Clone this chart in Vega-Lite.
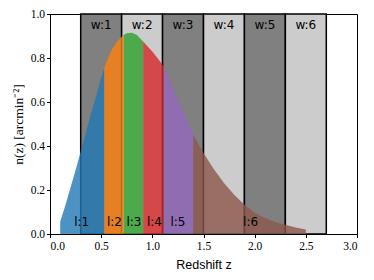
{
  "$schema": "https://vega.github.io/schema/vega-lite/v6.json",
  "width": 307,
  "height": 220,
  "autosize": {"type": "none"},
  "padding": {"left": 50, "top": 14, "right": 17, "bottom": 46},
  "background": "white",
  "config": {
    "view": {"stroke": "black", "strokeWidth": 1},
    "axis": {
      "grid": false,
      "domainColor": "black",
      "tickColor": "black",
      "tickSize": 3.5,
      "labelColor": "black",
      "labelFont": "Liberation Serif",
      "labelFontSize": 11.5,
      "titleColor": "black",
      "titleFontWeight": "normal"
    }
  },
  "datasets": {
    "bands": [
      {"w": "w:1", "lo": 0.3, "hi": 0.7, "mid": 0.5, "shade": "dark"},
      {"w": "w:2", "lo": 0.7, "hi": 1.1, "mid": 0.9, "shade": "light"},
      {"w": "w:3", "lo": 1.1, "hi": 1.5, "mid": 1.3, "shade": "dark"},
      {"w": "w:4", "lo": 1.5, "hi": 1.9, "mid": 1.7, "shade": "light"},
      {"w": "w:5", "lo": 1.9, "hi": 2.3, "mid": 2.1, "shade": "dark"},
      {"w": "w:6", "lo": 2.3, "hi": 2.7, "mid": 2.5, "shade": "light"}
    ],
    "curve": [
      {"seg": "l:1", "z": 0.10, "n": 0.057},
      {"seg": "l:1", "z": 0.15, "n": 0.13},
      {"seg": "l:1", "z": 0.20, "n": 0.21},
      {"seg": "l:1", "z": 0.25, "n": 0.29},
      {"seg": "l:1", "z": 0.30, "n": 0.375},
      {"seg": "l:1", "z": 0.35, "n": 0.46},
      {"seg": "l:1", "z": 0.40, "n": 0.545},
      {"seg": "l:1", "z": 0.45, "n": 0.625},
      {"seg": "l:1", "z": 0.50, "n": 0.71},
      {"seg": "l:1", "z": 0.53, "n": 0.755},
      {"seg": "l:2", "z": 0.53, "n": 0.755},
      {"seg": "l:2", "z": 0.55, "n": 0.78},
      {"seg": "l:2", "z": 0.60, "n": 0.835},
      {"seg": "l:2", "z": 0.65, "n": 0.872},
      {"seg": "l:2", "z": 0.70, "n": 0.897},
      {"seg": "l:2", "z": 0.72, "n": 0.905},
      {"seg": "l:3", "z": 0.72, "n": 0.905},
      {"seg": "l:3", "z": 0.75, "n": 0.913},
      {"seg": "l:3", "z": 0.80, "n": 0.915},
      {"seg": "l:3", "z": 0.85, "n": 0.905},
      {"seg": "l:3", "z": 0.90, "n": 0.88},
      {"seg": "l:3", "z": 0.91, "n": 0.875},
      {"seg": "l:4", "z": 0.91, "n": 0.875},
      {"seg": "l:4", "z": 0.95, "n": 0.855},
      {"seg": "l:4", "z": 1.00, "n": 0.83},
      {"seg": "l:4", "z": 1.05, "n": 0.80},
      {"seg": "l:4", "z": 1.11, "n": 0.762},
      {"seg": "l:5", "z": 1.11, "n": 0.762},
      {"seg": "l:5", "z": 1.15, "n": 0.72},
      {"seg": "l:5", "z": 1.20, "n": 0.665},
      {"seg": "l:5", "z": 1.25, "n": 0.61},
      {"seg": "l:5", "z": 1.30, "n": 0.56},
      {"seg": "l:5", "z": 1.35, "n": 0.505},
      {"seg": "l:5", "z": 1.40, "n": 0.451},
      {"seg": "l:6", "z": 1.40, "n": 0.451},
      {"seg": "l:6", "z": 1.50, "n": 0.368},
      {"seg": "l:6", "z": 1.60, "n": 0.295},
      {"seg": "l:6", "z": 1.70, "n": 0.232},
      {"seg": "l:6", "z": 1.80, "n": 0.178},
      {"seg": "l:6", "z": 1.90, "n": 0.133},
      {"seg": "l:6", "z": 2.00, "n": 0.097},
      {"seg": "l:6", "z": 2.10, "n": 0.073},
      {"seg": "l:6", "z": 2.20, "n": 0.055},
      {"seg": "l:6", "z": 2.30, "n": 0.042},
      {"seg": "l:6", "z": 2.40, "n": 0.03},
      {"seg": "l:6", "z": 2.50, "n": 0.02}
    ],
    "llabels": [
      {"lab": "l:1", "z": 0.31},
      {"lab": "l:2", "z": 0.63},
      {"lab": "l:3", "z": 0.82},
      {"lab": "l:4", "z": 1.02},
      {"lab": "l:5", "z": 1.25},
      {"lab": "l:6", "z": 1.96}
    ]
  },
  "layer": [
    {
      "data": {"name": "bands"},
      "mark": {"type": "rect", "stroke": "black", "strokeWidth": 1.5},
      "encoding": {
        "x": {
          "field": "lo", "type": "quantitative",
          "scale": {"domain": [0, 3], "nice": false, "zero": false},
          "axis": {"values": [0, 0.5, 1, 1.5, 2, 2.5, 3], "format": ".1f", "title": "Redshift z", "titleFont": "Liberation Sans", "titleFontSize": 12.5, "titlePadding": 6, "labelPadding": 3}
        },
        "x2": {"field": "hi"},
        "y": {
          "datum": 0, "type": "quantitative",
          "scale": {"domain": [0, 1], "nice": false},
          "axis": {"values": [0, 0.2, 0.4, 0.6, 0.8, 1], "format": ".1f", "title": "n(z) [arcmin⁻²]", "titleFont": "Liberation Serif", "titleFontSize": 13.5, "titlePadding": 5, "labelPadding": 2}
        },
        "y2": {"datum": 1},
        "fill": {"field": "shade", "type": "nominal", "scale": {"domain": ["dark", "light"], "range": ["#808080", "#cccccc"]}, "legend": null}
      }
    },
    {
      "data": {"name": "curve"},
      "mark": {"type": "area", "opacity": 0.8},
      "encoding": {
        "x": {"field": "z", "type": "quantitative"},
        "y": {"field": "n", "type": "quantitative", "stack": null},
        "color": {"field": "seg", "type": "nominal", "scale": {"domain": ["l:1", "l:2", "l:3", "l:4", "l:5", "l:6"], "range": ["#1f77b4", "#ff7f0e", "#2ca02c", "#d62728", "#9467bd", "#8c564b"]}, "legend": null}
      }
    },
    {
      "data": {"name": "bands"},
      "mark": {"type": "text", "font": "DejaVu Sans", "fontSize": 12, "baseline": "middle", "align": "center", "color": "black"},
      "encoding": {
        "x": {"field": "mid", "type": "quantitative"},
        "y": {"datum": 0.95},
        "text": {"field": "w"}
      }
    },
    {
      "data": {"name": "llabels"},
      "mark": {"type": "text", "font": "DejaVu Sans", "fontSize": 12, "baseline": "middle", "align": "center", "color": "black"},
      "encoding": {
        "x": {"field": "z", "type": "quantitative"},
        "y": {"datum": 0.053},
        "text": {"field": "lab"}
      }
    }
  ]
}
